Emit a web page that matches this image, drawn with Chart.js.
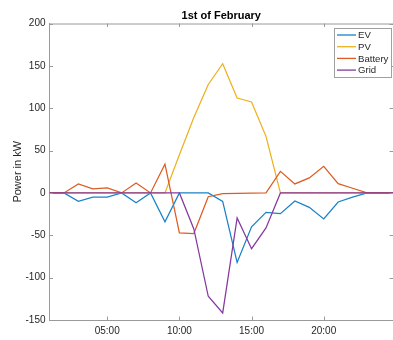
<!DOCTYPE html>
<html><head><meta charset="utf-8">
<script src="https://cdn.jsdelivr.net/npm/chart.js@4"></script>
<style>html,body{margin:0;padding:0;background:#fff}canvas{display:block}</style>
</head><body>
<canvas id="c" width="393" height="340"></canvas>
<script>
// ---- data ----
const hours = [1,2,3,4,5,6,7,8,9,10,11,12,13,14,15,16,17,18,19,20,21,22,23,24,25];
const xTickHours = [5,10,15,20];
const yTickValues = [-150,-100,-50,0,50,100,150,200];
const seriesNames = ['EV','PV','Battery','Grid'];
const evValues      = [0,0,-10,-5,-5,0,-11.5,0,-34,0,0,0,-10,-82,-40,-23,-24.5,-9.5,-17,-30.7,-10.7,-5,0,0,0];
const pvValues      = [0,0,0,0,0,0,0,0,0,45,89,128,152.5,112,107.4,66.8,0,0,0,0,0,0,0,0,0];
const batteryValues = [0,0,10.6,4.7,5.9,0,11.8,0,34,-47.2,-48,-4.5,-0.8,-0.4,-0.2,0,25.5,10.6,17.7,31.4,11,5.5,0,0,0];
const gridValues    = [0,0,0,0,0,0,0,0,0,0,-42.5,-122,-141.7,-29.5,-65.8,-41.3,0,0,0,0,0,0,0,0,0];
const chartTitle = '1st of February';
const yAxisTitle = 'Power in kW';

// ---- styling ----
const FONT = "'Liberation Sans', Arial, Helvetica, sans-serif";
const colors = ['#1a82c8','#EDB120','#DD5C22','#8639A0'];
const axisColor = '#9a9a9a';
const textColor = '#262626';
const allSeries = [evValues, pvValues, batteryValues, gridValues];

const datasets = seriesNames.map((name, i) => ({
  label: name,
  data: hours.map((h, k) => ({x: h, y: allSeries[i][k]})),
  borderColor: colors[i],
  backgroundColor: colors[i],
  borderWidth: 1.25,
  pointRadius: 0,
  tension: 0,
  fill: false,
  order: 3 - i
}));

const framePlugin = {
  id: 'matlabFrame',
  afterDraw(chart) {
    const ctx = chart.ctx;
    const a = chart.chartArea;
    const xs = chart.scales.x, ys = chart.scales.y;
    const tl = 3.5;
    ctx.save();
    ctx.strokeStyle = axisColor;
    ctx.lineWidth = 1;
    // top border
    ctx.beginPath();
    ctx.moveTo(a.left, a.top + 0.5);
    ctx.lineTo(a.right, a.top + 0.5);
    ctx.stroke();
    // inward ticks
    ctx.beginPath();
    xTickHours.forEach(v => {
      const px = Math.round(xs.getPixelForValue(v)) + 0.5;
      ctx.moveTo(px, a.bottom); ctx.lineTo(px, a.bottom - tl);
      ctx.moveTo(px, a.top); ctx.lineTo(px, a.top + tl);
    });
    yTickValues.forEach(v => {
      const py = Math.round(ys.getPixelForValue(v)) + 0.5;
      ctx.moveTo(a.left, py); ctx.lineTo(a.left + tl, py);
      ctx.moveTo(a.right, py); ctx.lineTo(a.right - tl, py);
    });
    ctx.stroke();
    // legend
    const bx = 334.5, by = 28.5, bw = 57, bh = 49;
    ctx.fillStyle = '#fff';
    ctx.fillRect(bx, by, bw, bh);
    ctx.strokeStyle = '#a0a0a0';
    ctx.strokeRect(bx, by, bw, bh);
    ctx.font = '9.6px ' + FONT;
    ctx.textBaseline = 'middle';
    ctx.textAlign = 'left';
    chart.data.datasets.forEach((ds, i) => {
      const y = 35 + i * 11.7;
      ctx.strokeStyle = ds.borderColor;
      ctx.lineWidth = 1.3;
      ctx.beginPath();
      ctx.moveTo(337, y); ctx.lineTo(356, y);
      ctx.stroke();
      ctx.fillStyle = textColor;
      ctx.fillText(ds.label, 358, y + 0.5);
    });
    ctx.restore();
  }
};

new Chart(document.getElementById('c'), {
  type: 'line',
  data: { datasets },
  options: {
    responsive: false,
    animation: false,
    devicePixelRatio: 1,
    layout: { padding: 0 },
    events: [],
    plugins: {
      legend: { display: false },
      tooltip: { enabled: false },
      title: {
        display: true,
        text: chartTitle,
        fullSize: false,
        color: '#000',
        font: { family: FONT, size: 11, weight: 'bold' },
        padding: { top: 9, bottom: 1.3 }
      }
    },
    scales: {
      x: {
        type: 'linear',
        min: 1,
        max: 24.8,
        afterBuildTicks: s => { s.ticks = xTickHours.map(v => ({ value: v })); },
        afterFit: s => { s.height = 20; },
        grid: { display: false, drawTicks: false },
        border: { display: true, color: axisColor, width: 1 },
        ticks: {
          autoSkip: false,
          maxRotation: 0,
          padding: 5,
          color: textColor,
          font: { family: FONT, size: 10 },
          callback: v => String(v).padStart(2, '0') + ':00'
        }
      },
      y: {
        min: -150,
        max: 200,
        afterBuildTicks: s => { s.ticks = yTickValues.map(v => ({ value: v })); },
        afterFit: s => { s.width = 49.5; },
        grid: { display: false, drawTicks: false },
        border: { display: true, color: axisColor, width: 1 },
        ticks: {
          padding: 4,
          color: textColor,
          font: { family: FONT, size: 10 }
        },
        title: {
          display: true,
          text: yAxisTitle,
          color: textColor,
          font: { family: FONT, size: 11 },
          padding: { top: 11, bottom: 0 }
        }
      }
    }
  },
  plugins: [framePlugin]
});
</script>
</body></html>
